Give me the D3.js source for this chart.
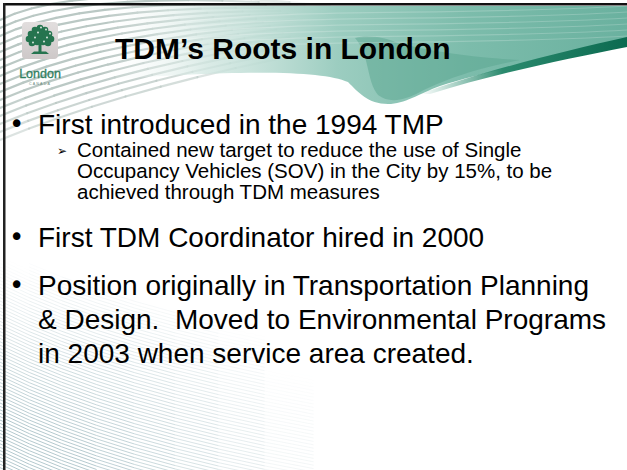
<!DOCTYPE html>
<html lang="en">
<head>
<meta charset="utf-8">
<title>TDM's Roots in London</title>
<script src="https://cdn.jsdelivr.net/npm/d3@7"></script>
<style>
  html, body { margin: 0; padding: 0; background: #fff; overflow: hidden; }
  text { font-family: "Liberation Sans", Arial, sans-serif; }
</style>
</head>
<body>
<div id="slide"></div>
<script>
// slide content
var titleText = "TDM\u2019s Roots in London";
var logoWord = "London";
var logoSub = "CANADA";

var lineText = [
  "First introduced in the 1994 TMP",
  "Contained new target to reduce the use of Single",
  "Occupancy Vehicles (SOV) in the City by 15%, to be",
  "achieved through TDM measures",
  "First TDM Coordinator hired in 2000",
  "Position originally in Transportation Planning",
  "& Design.  Moved to Environmental Programs",
  "in 2003 when service area created."
];
var lineLevel = [1, 2, 2, 2, 1, 1, 1, 1];
var lineStartsBullet = [true, true, false, false, true, true, false, false];

var W = 627, H = 470;

var svg = d3.select("#slide").append("svg")
  .attr("width", W)
  .attr("height", H);

var defs = svg.append("defs");

// gradients
var gTeal = defs.append("linearGradient").attr("id", "teal")
  .attr("x1", "0").attr("y1", "0").attr("x2", "1").attr("y2", "0");
gTeal.append("stop").attr("offset", "0").attr("stop-color", "#ffffff").attr("stop-opacity", 0);
gTeal.append("stop").attr("offset", "0.2").attr("stop-color", "#cfe5df").attr("stop-opacity", 0.75);
gTeal.append("stop").attr("offset", "0.45").attr("stop-color", "#9ccdc0");
gTeal.append("stop").attr("offset", "0.7").attr("stop-color", "#7cbcab");
gTeal.append("stop").attr("offset", "1").attr("stop-color", "#6ab19f");

var gDark = defs.append("linearGradient").attr("id", "dark")
  .attr("x1", "0").attr("y1", "0").attr("x2", "1").attr("y2", "0");
gDark.append("stop").attr("offset", "0").attr("stop-color", "#3f9a80").attr("stop-opacity", 0);
gDark.append("stop").attr("offset", "0.4").attr("stop-color", "#2b8a6e");
gDark.append("stop").attr("offset", "1").attr("stop-color", "#0b6a50");

var gLogo = defs.append("linearGradient").attr("id", "logobg")
  .attr("x1", "0").attr("y1", "0").attr("x2", "0").attr("y2", "1");
gLogo.append("stop").attr("offset", "0").attr("stop-color", "#e2dede");
gLogo.append("stop").attr("offset", "1").attr("stop-color", "#cdc8c8");

// stripe opacity falls off with distance from a corner
function fadeFrom(cx, cy, rx, ry) {
  return function(x, y) {
    var d = Math.sqrt(Math.pow((x - cx) / rx, 2) + Math.pow((y - cy) / ry, 2));
    return Math.max(0, 1 - d);
  };
}

// bottom-left hatch: short segments so each can fade
var fadeBL = fadeFrom(0, H, 330, 210);
var hatchSegs = [];
d3.range(0, 90).forEach(function(i) {
  var y0 = 250 + i * 3.4;
  var pts = d3.range(0, 11).map(function(k) {
    var t = k / 10;
    // quadratic curve from (0,y0) via (140,y0+70) to (420,y0+110)
    var x = 2 * (1 - t) * t * 140 + t * t * 420;
    var yy = (1 - t) * (1 - t) * y0 + 2 * (1 - t) * t * (y0 + 70) + t * t * (y0 + 110);
    return [x, yy];
  });
  for (var k = 0; k < pts.length - 1; k++) {
    var mx = (pts[k][0] + pts[k + 1][0]) / 2, my = (pts[k][1] + pts[k + 1][1]) / 2;
    var o = fadeBL(mx, my);
    if (o > 0 && my < H + 5) hatchSegs.push({a: pts[k], b: pts[k + 1], o: o});
  }
});
svg.append("g").selectAll("line")
  .data(hatchSegs)
  .enter().append("line")
  .attr("x1", function(d) { return d.a[0]; })
  .attr("y1", function(d) { return d.a[1]; })
  .attr("x2", function(d) { return d.b[0]; })
  .attr("y2", function(d) { return d.b[1]; })
  .attr("stroke", "#b4c9ce")
  .attr("stroke-opacity", function(d) { return Math.min(1, d.o * 1.3); })
  .attr("stroke-width", 1);

// top-left faint curves
var fadeTL = fadeFrom(0, 0, 340, 180);
var curveSegs = [];
d3.range(0, 16).forEach(function(i) {
  var y0 = 20 + i * 8;
  var cx = 80 + i * 6, cy = y0 - 40 - i * 2, ex = 330 + i * 8, ey = 6 + i * 1.5;
  var pts = d3.range(0, 13).map(function(k) {
    var t = k / 12;
    return [2 * (1 - t) * t * cx + t * t * ex,
            (1 - t) * (1 - t) * y0 + 2 * (1 - t) * t * cy + t * t * ey];
  });
  for (var k = 0; k < pts.length - 1; k++) {
    var mx = (pts[k][0] + pts[k + 1][0]) / 2, my = (pts[k][1] + pts[k + 1][1]) / 2;
    var o = fadeTL(mx, my);
    if (o > 0) curveSegs.push({a: pts[k], b: pts[k + 1], o: o});
  }
});
svg.append("g").selectAll("line")
  .data(curveSegs)
  .enter().append("line")
  .attr("x1", function(d) { return d.a[0]; })
  .attr("y1", function(d) { return d.a[1]; })
  .attr("x2", function(d) { return d.b[0]; })
  .attr("y2", function(d) { return d.b[1]; })
  .attr("stroke", "#bac8c4")
  .attr("stroke-opacity", function(d) { return Math.min(1, d.o * 2); })
  .attr("stroke-linecap", "round")
  .attr("stroke-width", 2.2);

// teal swoosh
svg.append("path")
  .attr("d", "M110,6 L627,6 L627,42 C565,55 490,70 440,86 C418,94 405,104 388,104 " +
             "C368,104 358,92 348,82 C320,70 240,70 100,80 C104,50 108,25 110,6 Z")
  .attr("fill", "url(#teal)");

// inner darker curl under the title
svg.append("path")
  .attr("d", "M355,38 C370,55 366,80 378,95 C390,104 405,100 420,92 C445,80 470,70 520,60 " +
             "C480,58 430,52 395,42 C385,38 368,34 355,38 Z")
  .attr("fill", "#5aa690")
  .attr("opacity", 0.5);

// faint light lines across the teal
svg.append("g").selectAll("path")
  .data(d3.range(0, 6))
  .enter().append("path")
  .attr("d", function(i) {
    var y0 = 12 + i * 6;
    return "M180," + (y0 + 10) + " C300," + (y0 - 4) + " 450," + (y0 + 4) + " 627," + (y0 - 6);
  })
  .attr("fill", "none")
  .attr("stroke", "#ffffff")
  .attr("stroke-opacity", 0.2)
  .attr("stroke-width", 1.2);

// dark edge band
svg.append("path")
  .attr("d", "M420,94 C480,72 560,52 627,37 L627,47 C565,59 490,75 430,94 Z")
  .attr("fill", "url(#dark)");

// border lines
svg.append("rect").attr("x", 3).attr("y", 3).attr("width", W - 3).attr("height", 2.5).attr("fill", "#111");
svg.append("rect").attr("x", 3).attr("y", 3).attr("width", 2.5).attr("height", H - 3).attr("fill", "#222");

// logo
var logo = svg.append("g").attr("transform", "translate(22,22)");
logo.append("rect").attr("width", 36).attr("height", 37).attr("rx", 4).attr("fill", "url(#logobg)");
var leafPts = [[18,6],[13,8],[23,8],[9,12],[15,11],[21,11],[27,12],[7,17],[12,16],[18,15],[24,16],[29,17],[10,21],[15,20],[21,20],[26,21]];
logo.selectAll("circle.leaf")
  .data(leafPts)
  .enter().append("circle")
  .attr("class", "leaf")
  .attr("cx", function(d) { return d[0]; })
  .attr("cy", function(d) { return d[1]; })
  .attr("r", 3.3)
  .attr("fill", "#25744f");
logo.selectAll("circle.spot")
  .data(leafPts.filter(function(d, i) { return i % 2 == 0; }))
  .enter().append("circle")
  .attr("class", "spot")
  .attr("cx", function(d) { return d[0] + 1; })
  .attr("cy", function(d) { return d[1] - 0.5; })
  .attr("r", 0.9)
  .attr("fill", "#e8f0ea");
logo.append("rect").attr("x", 16.5).attr("y", 21).attr("width", 3).attr("height", 9).attr("fill", "#25744f");
logo.append("path").attr("d", "M9,32 L27,32 L24,29.5 L12,29.5 Z").attr("fill", "#25744f");

svg.append("text")
  .attr("x", 40).attr("y", 78)
  .attr("text-anchor", "middle")
  .attr("font-size", 12.5)
  .attr("fill", "#2f8060")
  .attr("stroke", "#2f8060")
  .attr("stroke-width", 0.3)
  .text(logoWord);
svg.append("text")
  .attr("x", 40).attr("y", 85)
  .attr("text-anchor", "middle")
  .attr("font-size", 3.6)
  .attr("letter-spacing", 1.2)
  .attr("fill", "#6a8a7c")
  .text(logoSub);

// title
svg.append("text")
  .attr("x", 115).attr("y", 59)
  .attr("font-size", 30)
  .attr("font-weight", "bold")
  .attr("fill", "#000")
  .text(titleText);

// body lines: compute baselines from levels
var lineHeight = {1: 34, 2: 21};
var spaceBefore = {1: 14, 2: 2};
var fontSize = {1: 28, 2: 20.5};
var bulletX = {1: 9, 2: 57};
var textX = {1: 38, 2: 77};

var ys = [];
var y = 134;
lineText.forEach(function(t, i) {
  if (i > 0) {
    y += lineHeight[lineLevel[i]];
    if (lineStartsBullet[i]) y += spaceBefore[lineLevel[i]];
  }
  ys.push(y);
});

var body = svg.append("g");
body.selectAll("text.line")
  .data(lineText)
  .enter().append("text")
  .attr("class", "line")
  .attr("x", function(d, i) { return textX[lineLevel[i]]; })
  .attr("y", function(d, i) { return ys[i]; })
  .attr("font-size", function(d, i) { return fontSize[lineLevel[i]]; })
  .attr("fill", "#000")
  .style("white-space", "pre")
  .text(function(d) { return d; });

body.selectAll("text.bullet")
  .data(lineText.map(function(d, i) { return i; }).filter(function(i) { return lineStartsBullet[i]; }))
  .enter().append("text")
  .attr("class", "bullet")
  .attr("x", function(i) { return bulletX[lineLevel[i]]; })
  .attr("y", function(i) { return ys[i] - (lineLevel[i] == 1 ? 1 : 2); })
  .attr("font-size", function(i) { return lineLevel[i] == 1 ? 26 : 12; })
  .style("font-family", "DejaVu Sans, sans-serif")
  .attr("fill", "#000")
  .text(function(i) { return lineLevel[i] == 1 ? "\u2022" : "\u27A2"; });
</script>
</body>
</html>
